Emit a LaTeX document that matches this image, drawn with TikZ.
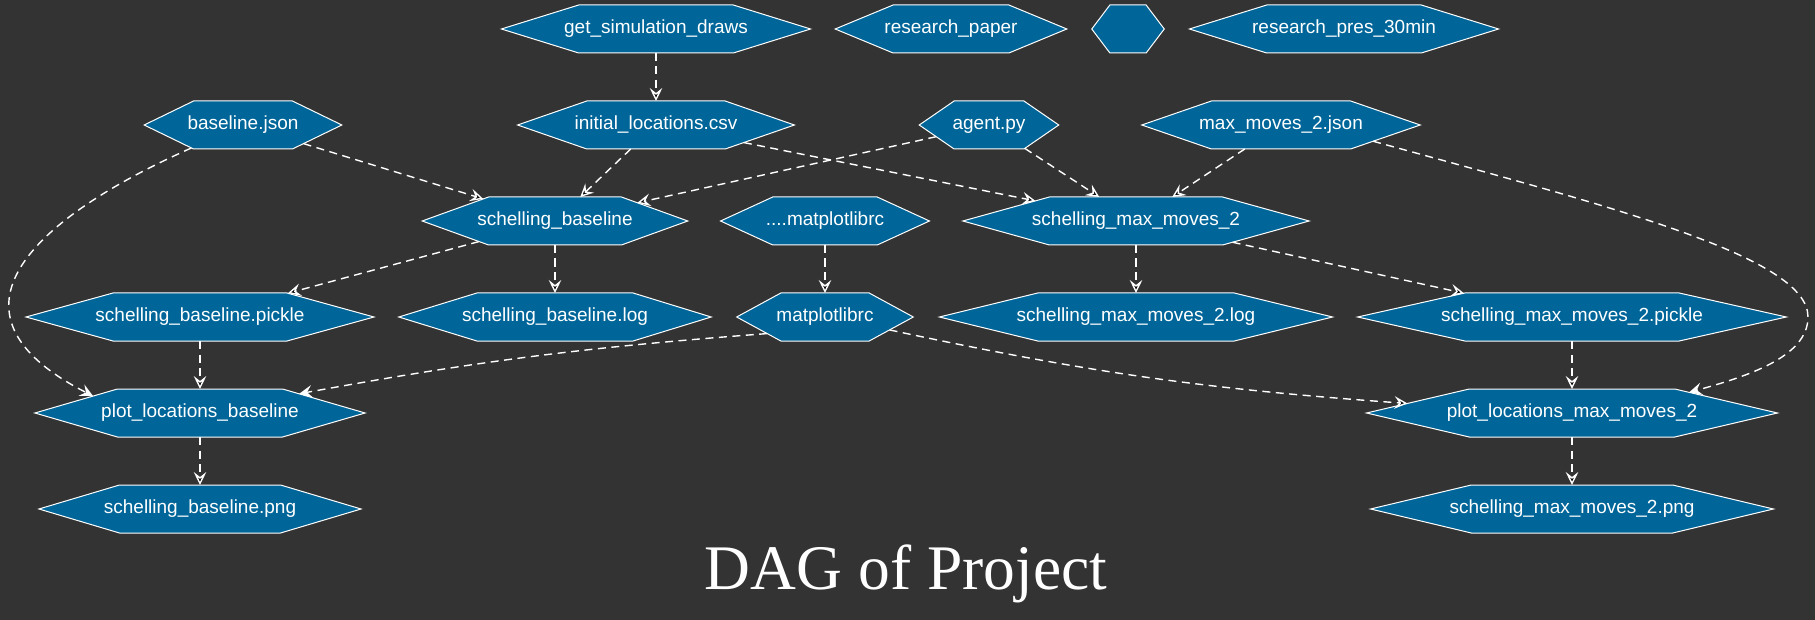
\documentclass[tikz,border=0pt]{standalone}
\usepackage{fontspec}
\setmainfont{Liberation Sans}
\newfontfamily\titlefont{Liberation Serif}
\usetikzlibrary{arrows.meta}

\definecolor{dagbg}{HTML}{333333}
\definecolor{dagblue}{HTML}{006699}

\makeatletter
% hexagon as graphviz draws it: the side points stick out by a quarter of the width
\pgfdeclareshape{hexfile}{%
  \savedanchor\centerpoint{%
    \pgf@x=.5\wd\pgfnodeparttextbox
    \pgf@y=.5\ht\pgfnodeparttextbox
    \advance\pgf@y by -.5\dp\pgfnodeparttextbox
  }%
  \savedanchor\halfsize{%
    \pgf@xb=\pgfkeysvalueof{/pgf/inner xsep}\relax
    \pgf@xc=\pgfkeysvalueof{/pgf/minimum width}\relax
    \pgf@yc=\pgfkeysvalueof{/pgf/minimum height}\relax
    \pgf@x=.765\wd\pgfnodeparttextbox
    \advance\pgf@x by \pgf@xb
    \ifdim\pgf@x<.5\pgf@xc \pgf@x=.5\pgf@xc\fi
    \pgf@y=.5\pgf@yc
  }%
  \anchor{center}{\centerpoint}%
  \anchor{text}{\pgfpointorigin}%
  \anchor{north}{\halfsize\pgf@ya=\pgf@y\centerpoint\advance\pgf@y by \pgf@ya}%
  \anchor{south}{\halfsize\pgf@ya=\pgf@y\centerpoint\advance\pgf@y by -\pgf@ya}%
  \anchor{east}{\halfsize\pgf@xa=\pgf@x\centerpoint\advance\pgf@x by \pgf@xa}%
  \anchor{west}{\halfsize\pgf@xa=\pgf@x\centerpoint\advance\pgf@x by -\pgf@xa}%
  \anchorborder{%
    \edef\hexdx{\the\pgf@x}\edef\hexdy{\the\pgf@y}%
    \pgfpointnormalised{\pgfqpoint{\hexdx}{\hexdy}}%
    \edef\hexdx{\the\pgf@x}\edef\hexdy{\the\pgf@y}%
    \halfsize
    \edef\hexhw{\the\pgf@x}\edef\hexhh{\the\pgf@y}%
    \pgfmathsetmacro\hext{1/max(abs(\hexdx)/\hexhw+abs(\hexdy)/(2*\hexhh),abs(\hexdy)/\hexhh,0.0001)}%
    \pgf@xa=\hexdx\relax \pgf@xa=\hext\pgf@xa
    \pgf@ya=\hexdy\relax \pgf@ya=\hext\pgf@ya
    \centerpoint
    \advance\pgf@x by \pgf@xa
    \advance\pgf@y by \pgf@ya
  }%
  \backgroundpath{%
    \centerpoint\edef\hexcx{\the\pgf@x}\edef\hexcy{\the\pgf@y}%
    \halfsize\edef\hexhw{\the\pgf@x}\edef\hexhh{\the\pgf@y}%
    \pgfpathmoveto{\pgfpoint{\hexcx-\hexhw}{\hexcy}}%
    \pgfpathlineto{\pgfpoint{\hexcx-.5*\hexhw}{\hexcy+\hexhh}}%
    \pgfpathlineto{\pgfpoint{\hexcx+.5*\hexhw}{\hexcy+\hexhh}}%
    \pgfpathlineto{\pgfpoint{\hexcx+\hexhw}{\hexcy}}%
    \pgfpathlineto{\pgfpoint{\hexcx+.5*\hexhw}{\hexcy-\hexhh}}%
    \pgfpathlineto{\pgfpoint{\hexcx-.5*\hexhw}{\hexcy-\hexhh}}%
    \pgfpathclose
  }%
}
\makeatother

\begin{document}
\begin{tikzpicture}[x=0.5pt, y=0.5pt, node distance=48pt,
    dagnode/.style={shape=hexfile, draw=white, line width=0.5pt, fill=dagblue,
      text=white, font=\fontsize{9.5}{11}\selectfont, inner xsep=7pt,
      minimum width=36.25pt, minimum height=24pt, text height=6.5pt, text depth=2pt},
    dagedge/.style={draw=white, line width=0.7pt, dash pattern=on 4pt off 2.75pt,
      -{Stealth[length=6.5pt, width=6.3pt, inset=2.5pt]}}]
\useasboundingbox (0,0) rectangle (1815,-620);
\fill[dagbg] (0,0) rectangle (1815,-620);

% define the files and tasks
  \node[dagnode] (gsd)    at (656,-29)   {get\_simulation\_draws};
  \node[dagnode] (rp)     at (951,-29)   {research\_paper};
  \node[dagnode] (blank)  at (1128,-29)  {};
  \node[dagnode] (rpres)  at (1344,-29)  {research\_pres\_30min};
  \node[dagnode] (bj)     at (243,-125)  {baseline.json};
  \node[dagnode] (ilc)    [below of=gsd] {initial\_locations.csv};
  \node[dagnode] (agent)  at (989,-125)  {agent.py};
  \node[dagnode] (mmj)    at (1281,-125) {max\_moves\_2.json};
  \node[dagnode] (sb)     at (555,-221)  {schelling\_baseline};
  \node[dagnode] (dmrc)   at (825,-221)  {....matplotlibrc};
  \node[dagnode] (smm)    at (1136,-221) {schelling\_max\_moves\_2};
  \node[dagnode] (sbp)    at (200,-317)  {schelling\_baseline.pickle};
  \node[dagnode] (sbl)    [below of=sb]  {schelling\_baseline.log};
  \node[dagnode] (mrc)    [below of=dmrc] {matplotlibrc};
  \node[dagnode] (smml)   [below of=smm] {schelling\_max\_moves\_2.log};
  \node[dagnode] (smmp)   at (1572,-317) {schelling\_max\_moves\_2.pickle};
  \node[dagnode] (plb)    [below of=sbp] {plot\_locations\_baseline};
  \node[dagnode] (plmm)   [below of=smmp] {plot\_locations\_max\_moves\_2};
  \node[dagnode] (sbpng)  [below of=plb] {schelling\_baseline.png};
  \node[dagnode] (smmpng) [below of=plmm] {schelling\_max\_moves\_2.png};

  \node[text=white, font=\titlefont\fontsize{31.75}{38}\selectfont, anchor=base]
    (title) at (906,-589) {DAG of Project};

% define the dependencies
  \path[dagedge] (gsd) edge (ilc)
        (bj) edge (sb)
        (ilc) edge (sb)
              edge (smm)
        (agent) edge (sb)
                edge (smm)
        (mmj) edge (smm)
        (sb) edge (sbp)
             edge (sbl)
        (dmrc) edge (mrc)
        (smm) edge (smml)
              edge (smmp)
        (sbp) edge (plb)
        (mrc) edge [bend right=4] (plmm)
        (smmp) edge (plmm)
        (plb) edge (sbpng)
        (plmm) edge (smmpng);
  \draw[dagedge] (mrc.196) to[bend right=3] (plb);
  \coordinate (mmjbend) at (1808,-317);
  \draw[dagedge] (bj.204) .. controls +(204:170) and +(153:185) .. (plb.171);
  \draw[dagedge] (mmj.350) .. controls +(-15.4:250) and +(90:60) .. (mmjbend)
                 .. controls +(-90:40) and +(15.4:60) .. (plmm.10);
\end{tikzpicture}
\end{document}
